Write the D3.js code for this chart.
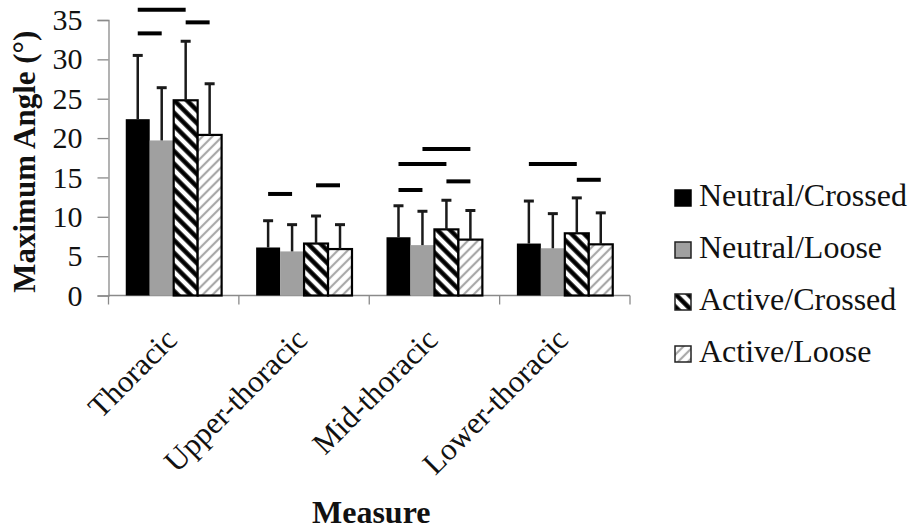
<!DOCTYPE html>
<html>
<head>
<meta charset="utf-8">
<script src="https://cdn.jsdelivr.net/npm/d3@7"></script>
<style>
  html, body { margin: 0; padding: 0; background: #fff; }
  svg { display: block; }
</style>
</head>
<body>
<svg id="chart" width="913" height="531"></svg>
<script>
// Maximum angle by measure and condition (mean + SD)
const categories = ["Thoracic", "Upper-thoracic", "Mid-thoracic", "Lower-thoracic"];
const seriesNames = ["Neutral/Crossed", "Neutral/Loose", "Active/Crossed", "Active/Loose"];
const neutralCrossed = [22.4, 6.1, 7.4, 6.6];
const neutralLoose   = [19.7, 5.6, 6.4, 6.0];
const activeCrossed  = [24.8, 6.6, 8.4, 7.9];
const activeLoose    = [20.4, 5.9, 7.1, 6.5];
const sdNeutralCrossed = [8.1, 3.4, 4.0, 5.4];
const sdNeutralLoose   = [6.7, 3.4, 4.3, 4.4];
const sdActiveCrossed  = [7.5, 3.5, 3.7, 4.5];
const sdActiveLoose    = [6.5, 3.1, 3.7, 4.0];
const yTicks = [0, 5, 10, 15, 20, 25, 30, 35];
// Significant pairwise differences: [category index, from series, to series, bar height]
const sigPairs = [
  [0, 0, 1, 33.3], [0, 0, 2, 36.3], [0, 2, 3, 34.7],
  [1, 0, 1, 12.9], [1, 2, 3, 14.0],
  [2, 0, 1, 13.4], [2, 0, 2, 16.7], [2, 1, 3, 18.6], [2, 2, 3, 14.5],
  [3, 0, 2, 16.7], [3, 2, 3, 14.7]
];

const means = [neutralCrossed, neutralLoose, activeCrossed, activeLoose];
const sds = [sdNeutralCrossed, sdNeutralLoose, sdActiveCrossed, sdActiveLoose];
const fills = ["#000000", "#a0a0a0", "url(#hatchDark)", "url(#hatchLight)"];
const strokes = ["none", "none", "#000", "#000"];
const SERIF = "'Liberation Serif', 'Times New Roman', serif";

const svg = d3.select("#chart");
const plotLeft = 108.5, plotRight = 630, plotTop = 20, plotBottom = 295.5;

// Hatch patterns
const defs = svg.append("defs");
const pd = defs.append("pattern").attr("id", "hatchDark")
  .attr("patternUnits", "userSpaceOnUse").attr("width", 9).attr("height", 9)
  .attr("patternTransform", "rotate(-45)");
pd.append("rect").attr("width", 9).attr("height", 9).attr("fill", "#fff");
pd.append("line").attr("x1", 2.5).attr("y1", 0).attr("x2", 2.5).attr("y2", 9)
  .attr("stroke", "#000").attr("stroke-width", 4.5);
const pl = defs.append("pattern").attr("id", "hatchLight")
  .attr("patternUnits", "userSpaceOnUse").attr("width", 7).attr("height", 7)
  .attr("patternTransform", "rotate(45)");
pl.append("rect").attr("width", 7).attr("height", 7).attr("fill", "#fff");
pl.append("line").attr("x1", 2).attr("y1", 0).attr("x2", 2).attr("y2", 7)
  .attr("stroke", "#a8a8a8").attr("stroke-width", 2.2);

const x0 = d3.scaleBand().domain(categories).range([plotLeft, plotRight]).paddingInner(0).paddingOuter(0);
const x1 = d3.scaleBand().domain(d3.range(seriesNames.length))
  .range([0, x0.bandwidth()]).paddingInner(0).paddingOuter(0.72);
const y = d3.scaleLinear().domain([0, 35]).range([plotBottom, plotTop]);

// Y axis
const yAxis = svg.append("g").attr("transform", `translate(${plotLeft},0)`)
  .call(d3.axisLeft(y).tickValues(yTicks).tickSize(11).tickPadding(15));
yAxis.attr("font-family", null);
yAxis.select(".domain").attr("stroke", "#8a8a8a").attr("stroke-width", 1.3);
yAxis.selectAll(".tick line").attr("stroke", "#8a8a8a").attr("stroke-width", 1.3);
yAxis.selectAll(".tick text").style("font-family", SERIF)
  .style("font-size", "30px").attr("fill", "#111");

// X axis with ticks at category boundaries
const xAxisG = svg.append("g");
xAxisG.append("line").attr("x1", plotLeft).attr("x2", plotRight).attr("y1", plotBottom).attr("y2", plotBottom)
  .attr("stroke", "#8a8a8a").attr("stroke-width", 1.3);
const bounds = categories.map(c => x0(c)).concat([x0(categories[categories.length - 1]) + x0.bandwidth()]);
xAxisG.selectAll("line.tk").data(bounds).join("line").attr("class", "tk")
  .attr("x1", d => d).attr("x2", d => d).attr("y1", plotBottom).attr("y2", plotBottom + 9)
  .attr("stroke", "#8a8a8a").attr("stroke-width", 1.3);
xAxisG.selectAll("text.cat").data(categories).join("text").attr("class", "cat")
  .attr("transform", d => `translate(${x0(d) + x0.bandwidth() / 2 + 5},${plotBottom + 46}) rotate(-45)`)
  .attr("text-anchor", "end").style("font-family", SERIF).style("font-size", "31px")
  .attr("fill", "#111").text(d => d);

// Bars
const groups = svg.append("g").selectAll("g").data(categories).join("g")
  .attr("transform", d => `translate(${x0(d)},0)`);
groups.selectAll("rect").data((c, ci) => means.map((m, si) => ({ si, v: m[ci], sd: sds[si][ci] })))
  .join("rect")
  .attr("x", d => x1(d.si)).attr("width", x1.bandwidth())
  .attr("y", d => y(d.v)).attr("height", d => y(0) - y(d.v))
  .attr("fill", d => fills[d.si]).attr("stroke", d => strokes[d.si]).attr("stroke-width", 2.2);

// Error bars (upper only)
const eb = groups.selectAll("g.err").data((c, ci) => means.map((m, si) => ({ si, v: m[ci], sd: sds[si][ci] })))
  .join("g").attr("class", "err");
eb.append("line")
  .attr("x1", d => x1(d.si) + x1.bandwidth() / 2).attr("x2", d => x1(d.si) + x1.bandwidth() / 2)
  .attr("y1", d => y(d.v)).attr("y2", d => y(d.v + d.sd))
  .attr("stroke", "#1a1a1a").attr("stroke-width", 2.5);
eb.append("line")
  .attr("x1", d => x1(d.si) + x1.bandwidth() / 2 - 5).attr("x2", d => x1(d.si) + x1.bandwidth() / 2 + 5)
  .attr("y1", d => y(d.v + d.sd)).attr("y2", d => y(d.v + d.sd))
  .attr("stroke", "#1a1a1a").attr("stroke-width", 3);

// Significance bars
svg.append("g").selectAll("line").data(sigPairs).join("line")
  .attr("x1", d => x0(categories[d[0]]) + x1(d[1]) + x1.bandwidth() / 2)
  .attr("x2", d => x0(categories[d[0]]) + x1(d[2]) + x1.bandwidth() / 2)
  .attr("y1", d => y(d[3])).attr("y2", d => y(d[3]))
  .attr("stroke", "#000").attr("stroke-width", 4);

// Axis titles
svg.append("text").attr("transform", `translate(35,${(plotTop + plotBottom) / 2 + 4}) rotate(-90)`)
  .attr("text-anchor", "middle").style("font-family", SERIF).style("font-weight", "bold")
  .style("font-size", "31px").attr("fill", "#111").text("Maximum Angle (°)");
svg.append("text").attr("x", (plotLeft + plotRight) / 2 + 2).attr("y", 523)
  .attr("text-anchor", "middle").style("font-family", SERIF).style("font-weight", "bold")
  .style("font-size", "32px").attr("fill", "#111").text("Measure");

// Legend
const legend = svg.append("g").selectAll("g").data(seriesNames).join("g")
  .attr("transform", (d, i) => `translate(675,${206 + i * 52})`);
legend.append("rect").attr("x", 0).attr("y", -16).attr("width", 16).attr("height", 16)
  .attr("fill", (d, i) => fills[i]).attr("stroke", (d, i) => i === 0 ? "#000" : "#222").attr("stroke-width", 1.5);
legend.append("text").attr("x", 24).attr("y", 0).style("font-family", SERIF)
  .style("font-size", "32px").attr("fill", "#111").text(d => d);
</script>
</body>
</html>
